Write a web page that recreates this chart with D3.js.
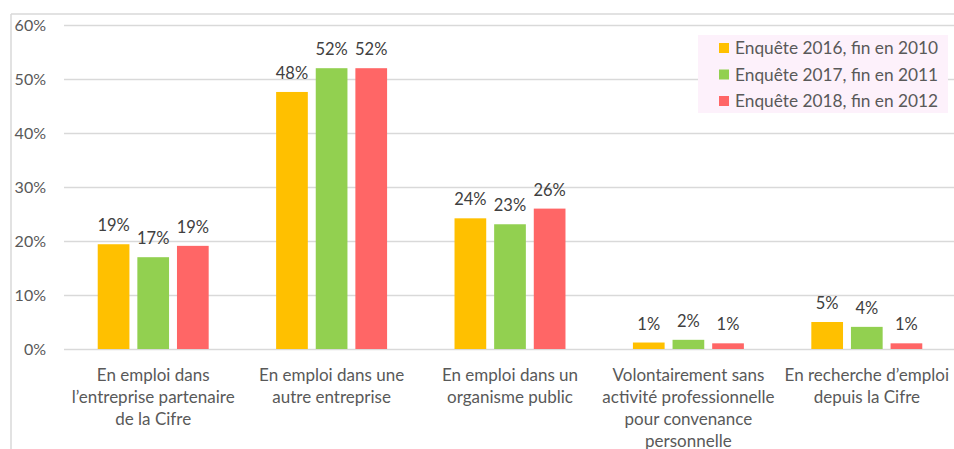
<!DOCTYPE html>
<html>
<head>
<meta charset="utf-8">
<script src="https://cdn.jsdelivr.net/npm/d3@7"></script>
<style>
  body { margin: 0; background: #fff; }
  text { font-family: Lato, "Open Sans", sans-serif; }
</style>
</head>
<body>
<script>
/* données */
var categories = [
  "En emploi dans\nl\u2019entreprise partenaire\nde la Cifre",
  "En emploi dans une\nautre entreprise",
  "En emploi dans un\norganisme public",
  "Volontairement sans\nactivit\u00e9 professionnelle\npour convenance\npersonnelle",
  "En recherche d\u2019emploi\ndepuis la Cifre"
];
var series = ["Enqu\u00eate 2016, fin en 2010", "Enqu\u00eate 2017, fin en 2011", "Enqu\u00eate 2018, fin en 2012"];
var colors = ["#ffc000", "#92d050", "#ff6666"];
var values2016 = [19.4, 47.6, 24.2, 1.2, 5.0];
var values2017 = [17.0, 52.0, 23.1, 1.7, 4.1];
var values2018 = [19.1, 52.0, 26.0, 1.05, 1.05];
var labels2016 = ["19%", "48%", "24%", "1%", "5%"];
var labels2017 = ["17%", "52%", "23%", "2%", "4%"];
var labels2018 = ["19%", "52%", "26%", "1%", "1%"];
var yTicks = [0, 10, 20, 30, 40, 50, 60];

var allValues = [values2016, values2017, values2018];
var allLabels = [labels2016, labels2017, labels2018];

var width = 954, height = 449;

var svg = d3.select('body').append('svg')
  .attr('width', width)
  .attr('height', height);

/* cadre */
svg.append('line')
  .attr('x1', 11).attr('y1', 14).attr('x2', width).attr('y2', 14)
  .attr('stroke', '#d9d9d9').attr('stroke-width', 1.5);
svg.append('line')
  .attr('x1', 11).attr('y1', 14).attr('x2', 11).attr('y2', height)
  .attr('stroke', '#d9d9d9').attr('stroke-width', 1.5);

/* échelles */
var x0 = d3.scaleBand()
  .domain(d3.range(categories.length))
  .range([64, 956])
  .paddingInner(0.378)
  .paddingOuter(0.189);

var x1 = d3.scaleBand()
  .domain(d3.range(series.length))
  .range([0, x0.bandwidth()])
  .paddingInner(0.2);

var y = d3.scaleLinear()
  .domain([0, 60])
  .range([349, 25]);

/* grille + axe y */
var yAxis = svg.append('g')
  .attr('transform', 'translate(64,0)')
  .call(d3.axisLeft(y).tickValues(yTicks).tickSize(-(width - 64)).tickFormat(function (d) { return d + '%'; }));
yAxis.select('.domain').remove();
yAxis.selectAll('.tick line').attr('stroke', '#d9d9d9').attr('stroke-width', 1.5);
yAxis.selectAll('.tick text')
  .attr('x', -18)
  .attr('fill', '#595959')
  .style('font-size', '16px');

/* barres */
var groups = svg.append('g').selectAll('g')
  .data(categories)
  .join('g')
  .attr('transform', function (d, i) { return 'translate(' + x0(i) + ',0)'; });

groups.selectAll('rect')
  .data(function (d, i) { return allValues.map(function (v, s) { return { s: s, v: v[i] }; }); })
  .join('rect')
  .attr('x', function (d) { return x1(d.s); })
  .attr('y', function (d) { return y(d.v); })
  .attr('width', x1.bandwidth())
  .attr('height', function (d) { return y(0) - y(d.v); })
  .attr('fill', function (d) { return colors[d.s]; });

/* étiquettes de données */
groups.selectAll('text.val')
  .data(function (d, i) { return allValues.map(function (v, s) { return { s: s, v: v[i], t: allLabels[s][i] }; }); })
  .join('text')
  .attr('class', 'val')
  .attr('x', function (d) { return x1(d.s) + x1.bandwidth() / 2; })
  .attr('y', function (d) { return y(d.v) - 13; })
  .attr('text-anchor', 'middle')
  .attr('fill', '#404040')
  .style('font-size', '16.5px')
  .text(function (d) { return d.t; });

/* catégories */
groups.append('text')
  .attr('text-anchor', 'middle')
  .attr('fill', '#595959')
  .style('font-size', '17px')
  .selectAll('tspan')
  .data(function (d) { return d.split('\n'); })
  .join('tspan')
  .attr('x', x0.bandwidth() / 2)
  .attr('y', function (d, i) { return 381 + i * 22; })
  .text(function (d) { return d; });

/* légende */
var legend = svg.append('g');
legend.append('rect')
  .attr('x', 698).attr('y', 35)
  .attr('width', 250).attr('height', 78)
  .attr('fill', '#fdf1fb');
var items = legend.selectAll('g')
  .data(series)
  .join('g')
  .attr('transform', function (d, i) { return 'translate(719,' + (48 + i * 26.5) + ')'; });
items.append('rect')
  .attr('x', 0).attr('y', -5)
  .attr('width', 10).attr('height', 10)
  .attr('fill', function (d, i) { return colors[i]; });
items.append('text')
  .attr('x', 16).attr('y', 6)
  .attr('fill', '#595959')
  .style('font-size', '17.3px')
  .text(function (d) { return d; });
</script>
</body>
</html>
